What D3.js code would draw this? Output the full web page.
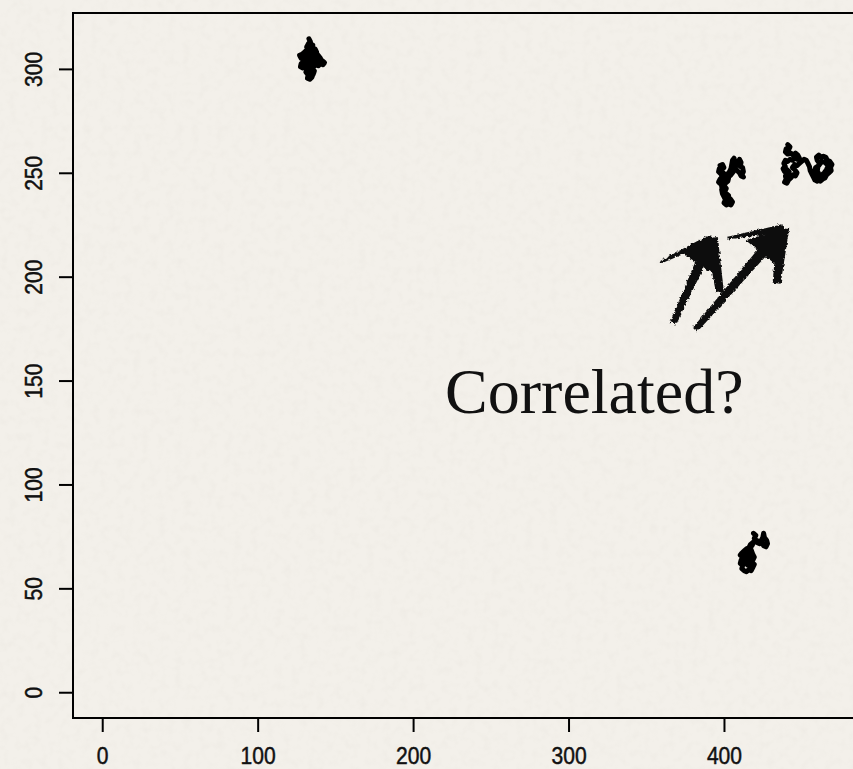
<!DOCTYPE html>
<html>
<head>
<meta charset="utf-8">
<script src="https://cdn.jsdelivr.net/npm/d3@7"></script>
<style>
  html, body { margin: 0; padding: 0; background: #f3f0ea; }
  svg { display: block; }
</style>
</head>
<body>
<div id="chart"></div>
<script>
// Axis limits of the plotting box and tick values
const xLimits = [-18.8, 488.8];
const yLimits = [-12.4, 326.9];
const xTicks = [0, 100, 200, 300, 400];
const yTicks = [0, 50, 100, 150, 200, 250, 300];

// Four random-walk traces, [x, y] steps
const walkA = [
  [133,314.5],[134,313],[132.5,312],[134,311],[135.5,311.5],[135,309.5],[133,310],[131.5,309],
  [130,308],[128.5,307],[127,306.5],[128,305],[129.5,306],[131,305],[130,303.5],[128,302.5],
  [127.5,301],[129,300.5],[130.5,301.5],[132,300],[131,298.5],[132.5,297],[132,295.5],[133.5,295],
  [135,296],[134.5,297.5],[136,298],[135,299.5],[133.5,299],[133,301],[134.5,302],[136,301],
  [137.5,302],[139,301.5],[140.5,302.5],[142,302],[143,303],[141.5,304],[140,303.5],[138.5,304.5],
  [137,304],[135.5,305],[134,304],[132.5,305.5],[131,307],[132,308],[133.5,307],[135,308],
  [136.5,307],[138,308],[137,309.5],[135.5,310],[134,308.5],[133,306.5],[134.5,305.5],[136,306],
  [137.5,305.5],[136,303.5],[134.5,303],[133,303.5],[131.5,303],[130,304.5],[129,303],[130.5,302],
  [132,302.5],[133.5,300.5],[135,300],[136.5,299],[135.5,297],[134,296.5],[133,297.5],[134,298.5],
  [132.5,299.5],[131,300],[129.5,302],[131,304],[132.5,306.5],[134,307.5],[133,309],[131.5,310.5],
  [133,312.5],[134.5,310],[136.5,308.5],[139,306.5],[140.5,305],[138.5,303],[136.5,302.5],[134,301.5]
];
const walkB = [
  [397.5,253.5],[399,254],[400,252.5],[398.5,251.5],[397,252],[396.5,250.5],[398,249.5],[399.5,250],
  [401,249],[400.5,247.5],[399,248],[397.5,247],[396.5,245.5],[398,244.5],[399.5,245.5],[401,245],
  [402.5,246],[403,247.5],[402,249],[403.5,250.5],[404.5,252],[405,254],[405.5,256],[406.5,257],
  [407,255],[408,253.5],[409,255],[410,256.5],[411,255],[410.5,253],[412,252.5],[412.5,250.5],
  [411.5,249],[412.5,248],[411,248.5],[410,250],[408.5,251],[407,252],[406,250.5],[404.5,249],
  [403,248],[401.5,246.5],[400,246],[398.5,243.5],[399,242],[400.5,241],[401.5,242.5],[400,243.5],
  [398.5,242],[399,240],[400,238.5],[401,237],[400,235.5],[401.5,234.5],[403,235],[404.5,234.5],
  [405.5,236],[404,237.5],[402.5,237],[403,239],[401.5,240],[400.5,239],[399.5,240.5],[400.5,244],
  [399,246.5],[398,250.5],[399.5,252.5]
];
const walkC = [
  [441,263.5],[442.5,262.5],[441.5,261],[440,261.5],[439.5,260],[441,259],[443,259.5],[444.5,258.5],
  [446,259.5],[447.5,258.5],[448.5,257],[447,256.5],[445.5,257],[444,256],[442.5,256.5],[441,255.5],
  [439.5,256],[438.5,254.5],[439.5,253],[438,252],[439,250.5],[440.5,251.5],[442,250.5],[441,249],
  [439.5,248.5],[440,247],[439,245.5],[440.5,245],[441.5,246.5],[443,247.5],[444.5,249],[446,248.5],
  [447,250],[445.5,251.5],[444,252.5],[445.5,254],[447,253.5],[448.5,254.5],[450,255.5],[451.5,256.5],
  [453,256],[454,254.5],[455,253],[455.5,251],[456.5,249.5],[457.5,248],[458.5,246.5],[460,246],
  [461.5,247],[462.5,248.5],[461,249.5],[460,251],[460.5,253],[461.5,254.5],[460,256],[459.5,257.5],
  [461,258.5],[462.5,257.5],[464,258],[465.5,257.5],[466.5,256],[468,255.5],[469.5,254],[468.5,252.5],
  [469,251],[467.5,250],[466,249],[465,247.5],[463.5,247],[462,246],[460.5,247.5],[459,248.5],
  [458,250],[459,252.5],[461,253.5],[463,255.5],[465,255],[467,253.5],[466,251.5],[464.5,250],
  [463,249]
];
const walkD = [
  [419,76.5],[420.5,75.5],[419.5,74],[421,73],[422.5,72.5],[424,73],[425,74.5],[425.5,76.5],
  [426,74.5],[427.5,73],[428,71.5],[427,70],[425.5,70.5],[424.5,72],[423,71.5],[421.5,72],
  [420,73],[418.5,72],[417,71],[416,69.5],[414.5,69],[413,68],[411.5,67],[410.5,66],
  [412,65],[411,63.5],[410.5,62],[412,61],[411.5,59.5],[413,58.5],[414.5,58],[416,59],
  [417.5,58.5],[418.5,60],[419.5,61.5],[418,62.5],[417,64],[415.5,63],[414,64.5],[415.5,65.5],
  [417,66],[416,67.5],[414.5,66.5],[413,65.5],[412.5,63.5],[414,62],[415.5,61],[417,61.5],
  [418.5,63.5],[419.5,65],[418.5,66.5],[417.5,68.5],[416.5,70],[418,70.5],[419,72]
];
const walks = [walkA, walkB, walkC, walkD];

// Hand-drawn arrows (data units): tail, tip, thin barb end, head corner, head base
const arrowTails = [[367.2,177.6],[381.4,174.5]];
const arrowTips = [[392.2,218.7],[438.1,223.3]];
const arrowBarbs = [[358.8,206.8],[401.7,218.5]];
const arrowCorners = [[372.5,211.5],[414,217.5]];
const arrowBases = [[397.4,192.4],[433.9,196.8]];

// Annotation
const noteText = "Correlated?";
const notePos = [220.6, 134.4];

const W = 853, H = 769;
const box = { left: 73, top: 13, right: 862, bottom: 718 };

const svg = d3.select("#chart").append("svg")
  .attr("width", W).attr("height", H);

const defs = svg.append("defs");
// paper grain
const grain = defs.append("filter").attr("id", "grain")
  .attr("x", 0).attr("y", 0).attr("width", "100%").attr("height", "100%");
grain.append("feTurbulence").attr("type", "fractalNoise")
  .attr("baseFrequency", 0.12).attr("numOctaves", 2).attr("seed", 4).attr("result", "n");
grain.append("feColorMatrix").attr("type", "matrix")
  .attr("values", "0 0 0 0 0.55  0 0 0 0 0.52  0 0 0 0 0.47  0 0 0 0.8 -0.36");
// ragged brush edge
const brush = defs.append("filter").attr("id", "brush")
  .attr("x", "-20%").attr("y", "-20%").attr("width", "140%").attr("height", "140%");
brush.append("feTurbulence").attr("type", "fractalNoise")
  .attr("baseFrequency", 0.35).attr("numOctaves", 2).attr("seed", 7).attr("result", "t");
brush.append("feDisplacementMap").attr("in", "SourceGraphic").attr("in2", "t")
  .attr("scale", 4).attr("xChannelSelector", "R").attr("yChannelSelector", "G");

svg.append("rect").attr("width", W).attr("height", H).attr("fill", "#f3f0ea");
svg.append("rect").attr("width", W).attr("height", H).attr("filter", "url(#grain)").attr("opacity", 0.22);

const x = d3.scaleLinear().domain(xLimits).range([box.left, box.right]);
const y = d3.scaleLinear().domain(yLimits).range([box.bottom, box.top]);

// Walk traces
const line = d3.line().x(d => x(d[0])).y(d => y(d[1]));
svg.append("g").selectAll("path").data(walks).join("path")
  .attr("d", line)
  .attr("fill", "none")
  .attr("stroke", "#000")
  .attr("stroke-width", 5)
  .attr("stroke-linejoin", "round")
  .attr("stroke-linecap", "round");

// Arrows
const arrows = arrowTails.map((t, i) => ({
  tail: t, tip: arrowTips[i], barb: arrowBarbs[i], corner: arrowCorners[i], base: arrowBases[i]
}));
const P = d => [x(d[0]), y(d[1])];
function tapered(a, b, wa, wb) {
  const [x1, y1] = P(a), [x2, y2] = P(b);
  const dx = x2 - x1, dy = y2 - y1, L = Math.hypot(dx, dy);
  const nx = -dy / L, ny = dx / L;
  return [[x1 + nx * wa / 2, y1 + ny * wa / 2], [x2 + nx * wb / 2, y2 + ny * wb / 2],
          [x2 - nx * wb / 2, y2 - ny * wb / 2], [x1 - nx * wa / 2, y1 - ny * wa / 2]];
}
const poly = pts => "M" + pts.map(p => p.join(",")).join("L") + "Z";
const ag = svg.append("g").attr("filter", "url(#brush)").attr("fill", "#0a0a0a");
arrows.forEach(a => {
  ag.append("path").attr("d", poly(tapered(a.tail, a.tip, 6, 12)));
  ag.append("path").attr("d", poly(tapered(a.barb, a.tip, 2.5, 8)));
  ag.append("path").attr("d", poly(tapered(a.base, a.tip, 8, 12)));
  const mid = [(a.tip[0] * 0.3 + a.base[0] * 0.7), (a.tip[1] * 0.3 + a.base[1] * 0.7)];
  ag.append("path").attr("d", poly([P(a.tip), P(a.corner), P(mid)]));
});

// Annotation text
svg.append("text")
  .attr("x", x(notePos[0])).attr("y", y(notePos[1]))
  .attr("font-family", "'Liberation Serif', 'DejaVu Serif', serif")
  .attr("font-size", 64)
  .attr("fill", "#111")
  .text(noteText);

// Plot box
svg.append("rect")
  .attr("x", box.left).attr("y", box.top)
  .attr("width", box.right - box.left).attr("height", box.bottom - box.top)
  .attr("fill", "none").attr("stroke", "#000").attr("stroke-width", 2);

const tickFont = "'Liberation Sans', Arial, sans-serif";

const gx = svg.append("g").attr("transform", `translate(0,${box.bottom})`)
  .call(d3.axisBottom(x).tickValues(xTicks).tickSize(14).tickSizeOuter(0).tickPadding(15));
gx.select(".domain").remove();
gx.selectAll("line").attr("stroke", "#000").attr("stroke-width", 2);
gx.selectAll("text")
  .attr("font-family", tickFont).attr("font-size", 24.5).attr("fill", "#111")
  .attr("stroke", "#111").attr("stroke-width", 0.5)
  .attr("transform", "scale(0.86,1)");

const gy = svg.append("g").attr("transform", `translate(${box.left},0)`)
  .call(d3.axisLeft(y).tickValues(yTicks).tickSize(14).tickSizeOuter(0));
gy.select(".domain").remove();
gy.selectAll("line").attr("stroke", "#000").attr("stroke-width", 2);
gy.selectAll("text")
  .attr("x", null).attr("dy", null)
  .attr("transform", "translate(-31,0) rotate(-90) scale(0.86,1)")
  .attr("text-anchor", "middle")
  .attr("font-family", tickFont).attr("font-size", 24.5).attr("fill", "#111")
  .attr("stroke", "#111").attr("stroke-width", 0.5);
</script>
</body>
</html>
